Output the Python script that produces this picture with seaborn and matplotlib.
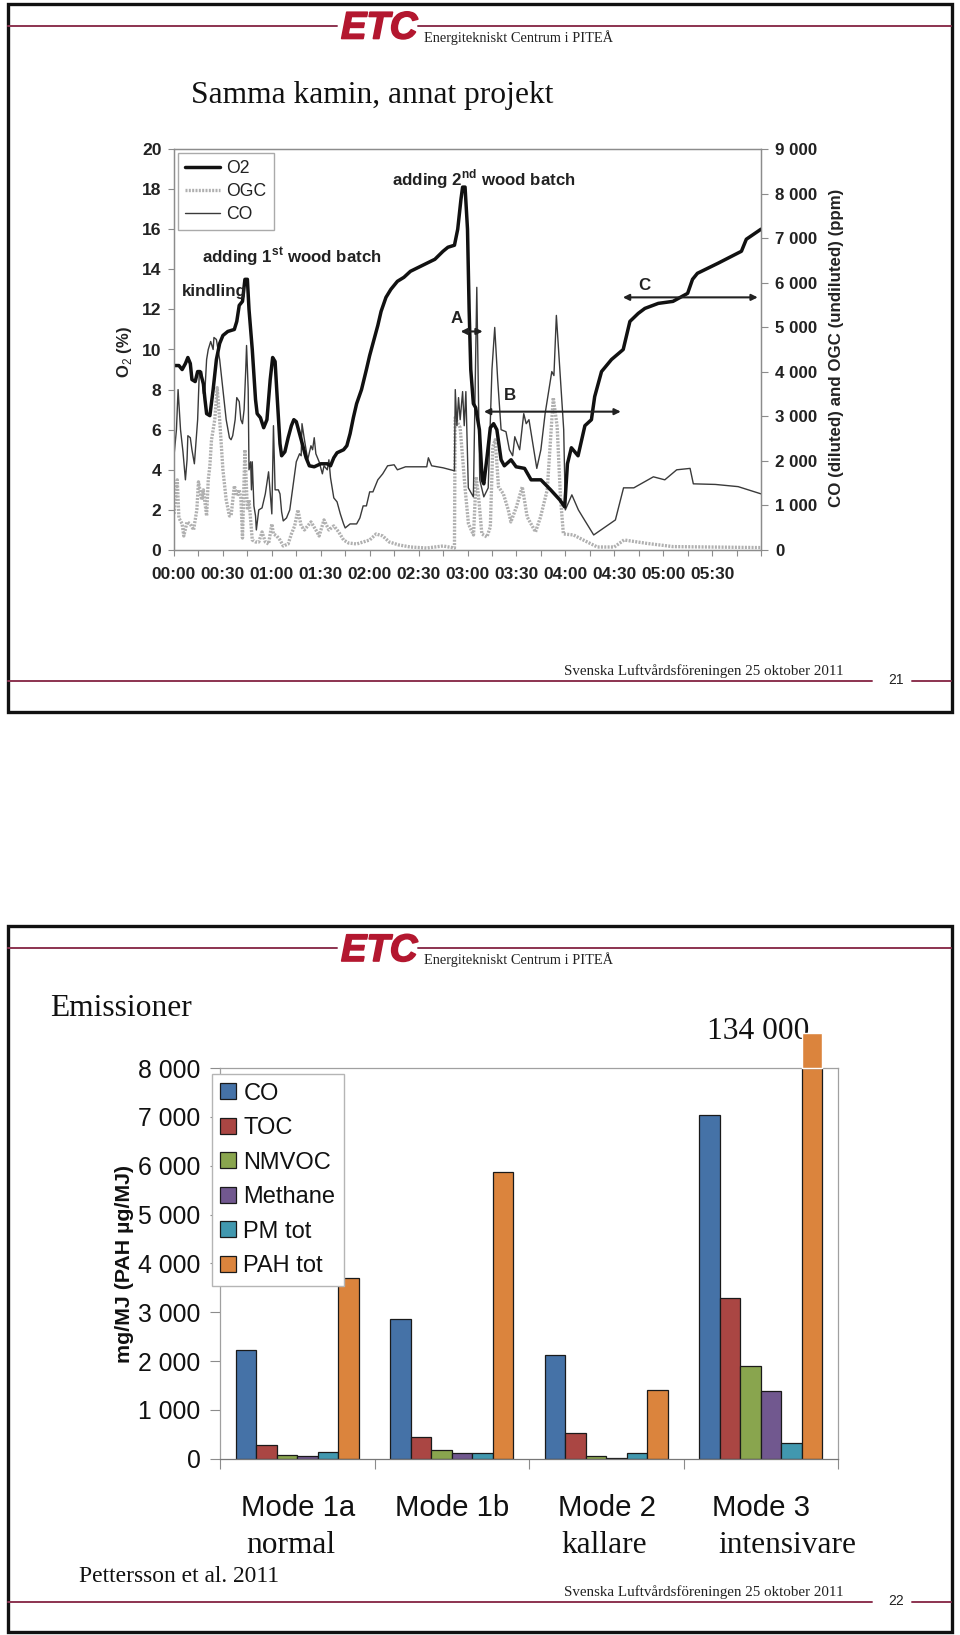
import numpy as np
import pandas as pd
import matplotlib
matplotlib.use("Agg")
import matplotlib.pyplot as plt
import matplotlib.patheffects as pe
import seaborn as sns

# ---- top slide: time series
# O2 in %, time in minutes
o2_t = [0, 3, 5, 7, 8.5, 10, 11, 13, 14.5, 16, 18, 19, 20, 22, 24, 26, 28, 30, 33, 37, 38.5, 40, 42, 43.5, 45,
        46, 48, 50, 51, 53, 55, 57, 59, 60.5, 62, 63, 65, 66, 68, 70, 72, 73.5, 75, 77, 79, 81, 83, 86, 90, 94,
        96, 98, 100, 104, 106, 108, 110, 112, 115, 118, 120, 123, 125, 127, 130, 133, 137, 141, 145, 150, 155,
        160, 165, 168, 172, 174, 176, 177, 178.5, 180, 181, 182, 183.6, 185, 187.3, 189, 190, 192, 194, 196,
        198, 200.6, 202.6, 206.7, 209.8, 215, 219, 225, 231, 236.6, 239.6, 241.3, 243.7, 247.8, 252, 256, 258,
        262.2, 268.3, 275.5, 279.6, 284.7, 288.8, 297, 306, 315, 318, 321, 333.6, 348, 351, 360]
o2 = [9.2, 9.2, 9.0, 9.3, 9.6, 9.3, 8.5, 8.4, 8.9, 8.9, 8.3, 7.5, 6.8, 6.7, 8, 9.5, 10.3, 10.7, 10.9, 11, 11.4,
      12.2, 12.4, 13.5, 13.5, 12, 10, 7.5, 6.8, 6.6, 6.1, 6.5, 8.5, 9.6, 9.4, 8, 5.3, 4.7, 4.9, 5.6, 6.2, 6.5,
      6.4, 5.8, 5.2, 4.6, 4.2, 4.15, 4.3, 4.3, 4.2, 4.6, 4.85, 5.0, 5.2, 5.8, 6.6, 7.3, 8, 9, 9.7, 10.6, 11.2,
      11.9, 12.6, 13, 13.4, 13.6, 13.9, 14.1, 14.3, 14.5, 14.9, 15.1, 15.2, 16, 17.5, 18.1, 18.1, 16, 12, 9,
      7.3, 7.1, 6, 3.5, 3.3, 4.65, 6.1, 6.3, 6, 4.5, 4.2, 4.5, 4.15, 4.07, 3.5, 3.5, 3, 2.5, 2.15, 4.3, 5.1,
      4.7, 6.2, 6.5, 7.65, 8.9, 9.5, 10, 11.4, 11.8, 12.05, 12.3, 12.4, 12.8, 13.5, 13.8, 14.3, 14.9, 15.5, 16]

# CO and OGC are read against the left scale, converted to ppm below
co_t = [0, 1.5, 2.5, 4, 5.5, 7, 8, 8.5, 10, 11, 12.5, 14.5, 15.5, 17, 18, 19, 20, 21, 22.5, 24, 24.5, 26, 28, 30,
        32, 34, 35, 36, 37.5, 38.5, 40, 41, 42, 43, 44, 44.5, 45.5, 46, 47, 47.5, 48, 49, 50, 50.5, 52, 54, 56,
        58, 60, 61, 62, 64, 65, 66, 67, 69, 71, 73, 75, 77, 78, 78.5, 80, 82, 84, 85, 86, 87, 89, 91, 92, 94,
        95, 96, 98, 100, 102, 104, 105, 108, 112, 114, 116, 118, 120, 122, 125, 128, 131, 135, 137, 142, 150,
        155, 156, 158, 165, 172, 172.5, 173.5, 174.5, 175.5, 177, 178, 179, 180.5, 183.6, 185.7, 187.5, 190,
        192.7, 195, 196.7, 198.5, 200.6, 203.6, 205.7, 207.7, 209, 212, 214.5, 216, 217.7, 222.5, 225, 227.6,
        231.7, 233, 234.5, 237, 239, 240, 244, 248, 250.6, 257.4, 270.7, 275.7, 282, 294, 301, 308.3, 316.5,
        318.5, 332, 346, 360]
co_read = [4.7, 6, 8.0, 6, 4.9, 3.5, 4.5, 5.7, 5.6, 5, 4.3, 6.5, 8.8, 8.9, 7.8, 8, 9.5, 10, 10.4, 10, 10.6, 10.5,
           9.5, 8, 6.5, 5.6, 5.5, 5.7, 6.5, 7.6, 7.4, 6.5, 6.3, 7, 9, 10.2, 8, 4, 4.4, 3, 4.4, 2.2, 1.7, 1, 2,
           2.1, 2.8, 3.9, 1.8, 6.2, 3, 3, 2.8, 1.9, 1.45, 1.6, 2, 3.2, 4.4, 4.8, 4.7, 6.3, 5.5, 4.5, 5.2, 5,
           5.6, 4.8, 4.4, 3.8, 4.2, 4, 4.5, 3.6, 2.6, 2.4, 1.8, 1.3, 1.1, 1.3, 1.3, 1.6, 2.2, 2.2, 2.9, 2.9,
           3.5, 3.8, 4.2, 4.25, 4.0, 4.15, 4.15, 4.15, 4.6, 4.2, 4.1, 3.95, 8, 6.2, 7.6, 6.5, 7.9, 6.2, 7.9,
           3.1, 2.65, 13.1, 3.5, 2.65, 3.1, 9, 11.1, 8.5, 6, 5.9, 5, 4.7, 5.65, 5, 6.8, 6.3, 6.5, 4.07, 5, 6.8,
           8.9, 8.7, 11.7, 8.5, 6, 2, 2.75, 2, 1.65, 0.75, 1.5, 3.1, 3.1, 3.65, 3.5, 4, 4.07, 3.3, 3.27, 3.16, 2.8]

ogc_t = [0, 2, 3, 5, 6, 8, 10, 12, 14, 15, 17, 18, 20, 21, 22, 23, 24, 25, 26.5, 28, 30, 32, 34, 35, 37, 38.5,
         40, 41, 42, 43.5, 45, 46, 48, 50, 52, 54, 56, 58, 60, 61, 63, 65, 67, 70, 72, 74, 76, 78, 80, 84, 87,
         89, 92, 95, 98, 101, 104, 107, 112, 116, 120, 124, 128, 132, 138, 145, 155, 165, 172, 172.4, 175.5,
         178.6, 180.6, 183.7, 185.3, 186.8, 188.8, 191.9, 194, 195.5, 197, 199, 202, 205, 206.6, 210, 213.6,
         216.6, 221.7, 224.8, 228.9, 232.6, 235, 237, 238.8, 245, 251, 259.6, 270, 276, 290, 306, 360]
ogc_read = [1.8, 3.5, 1.6, 1.3, 0.7, 1.4, 1.3, 1.0, 2.0, 3.4, 2.5, 3.0, 1.7, 3.5, 4.2, 5.5, 6, 6.5, 8.1, 6.5, 4,
            2.5, 1.7, 1.7, 3.2, 2.7, 3, 2.6, 0.6, 5, 2.0, 2.5, 0.5, 0.4, 0.4, 0.9, 0.4, 0.3, 1.3, 0.8, 0.7, 0.5,
            0.2, 0.3, 0.8, 1.2, 2, 1.2, 1, 1.4, 1, 0.7, 1.5, 1, 1.2, 0.9, 0.5, 0.35, 0.3, 0.4, 0.5, 0.8, 0.7,
            0.4, 0.25, 0.15, 0.1, 0.2, 0.1, 6.6, 6.1, 3, 1.3, 0.75, 3.65, 2.65, 0.8, 0.65, 1.15, 5.15, 5.5, 3.15,
            2.8, 2, 1.4, 2.15, 3.15, 1.65, 0.9, 1.65, 3, 7.6, 6.15, 2.65, 0.8, 0.75, 0.5, 0.15, 0.15, 0.5, 0.33,
            0.17, 0.12]

time_labels = ["00:00", "00:30", "01:00", "01:30", "02:00", "02:30", "03:00", "03:30", "04:00", "04:30", "05:00", "05:30"]
ppm_labels = ["0", "1 000", "2 000", "3 000", "4 000", "5 000", "6 000", "7 000", "8 000", "9 000"]

# ---- bottom slide: bars
modes = ["Mode 1a", "Mode 1b", "Mode 2", "Mode 3"]
species = ["CO", "TOC", "NMVOC", "Methane", "PM tot", "PAH tot"]
co_bar = [2217, 2870, 2120, 7044]
toc_bar = [281, 440, 535, 3288]
nmvoc_bar = [82, 172, 50, 1908]
methane_bar = [60, 110, 20, 1380]
pm_bar = [130, 110, 110, 316]
pah_bar = [3700, 5880, 1400, 8000]  # mode 3 runs off the axis (134 000)
pah_stub = 710  # plain orange piece pasted above the axis
bar_colors = ["#4572a7", "#aa4643", "#89a54e", "#71588f", "#4198af", "#db843d"]
bar_ticks = ["0", "1 000", "2 000", "3 000", "4 000", "5 000", "6 000", "7 000", "8 000"]

W, H = 960, 1635
MAROON = "#8c3350"
LOGO_RED = "#b3172f"
GREY = "#8c8c8c"

sns.set_theme(style="white")
plt.rcParams["font.family"] = ["Liberation Sans", "DejaVu Sans"]
plt.rcParams["mathtext.fontset"] = "custom"
plt.rcParams["mathtext.rm"] = "Liberation Sans"
plt.rcParams["mathtext.bf"] = "Liberation Sans:bold"

SERIF = ["Liberation Serif", "DejaVu Serif"]


def box(left, top, right, bottom):
    return [left / W, 1 - bottom / H, (right - left) / W, (bottom - top) / H]


fig = plt.figure(figsize=(W / 100, H / 100), dpi=100, facecolor="white")

# page layer in pixel coordinates
page = fig.add_axes([0, 0, 1, 1], zorder=0)
page.set_xlim(0, W)
page.set_ylim(H, 0)
page.axis("off")


def slide(top, bottom, rule_top, rule_bottom, foot_y, number):
    page.add_patch(plt.Rectangle((8, top), 943.5, bottom - top, fill=False, ec="#111111", lw=2.4))
    page.plot([8, 337], [rule_top, rule_top], color=MAROON, lw=1.4)
    page.plot([418, 951], [rule_top, rule_top], color=MAROON, lw=1.4)
    page.plot([8, 872], [rule_bottom, rule_bottom], color=MAROON, lw=1.4)
    page.plot([912, 951], [rule_bottom, rule_bottom], color=MAROON, lw=1.4)
    page.text(341, rule_top + 3, "ETC", color=LOGO_RED, fontsize=27.5, fontweight="bold", style="italic",
              va="center", ha="left", path_effects=[pe.withStroke(linewidth=1.2, foreground=LOGO_RED)])
    page.text(424, rule_top + 12, "Energitekniskt Centrum i PITEÅ", family=SERIF, fontsize=10.4,
              color="#222222", va="center")
    page.text(564, foot_y, "Svenska Luftvårdsföreningen 25 oktober 2011", family=SERIF, fontsize=10.85,
              color="#222222", va="center")
    page.text(896, rule_bottom - 1, number, fontsize=10, color="#222222", ha="center", va="center")


slide(3.5, 712, 25.5, 681, 671.5, "21")
slide(925.7, 1631.7, 948, 1602, 1592.5, "22")

page.text(191, 95, "Samma kamin, annat projekt", family=SERIF, fontsize=22.7, color="#111111", va="center")
page.text(50, 1008, "Emissioner", family=SERIF, fontsize=22.7, color="#111111", va="center")
page.text(707, 1031, "134 000", family=SERIF, fontsize=22.7, color="#111111", va="center")
page.text(79, 1576, "Pettersson et al. 2011", family=SERIF, fontsize=16.9, color="#111111", va="center")

# ---- top chart
ax = fig.add_axes(box(174, 149, 761, 550), zorder=1)
ax2 = ax.twinx()
ax.set_zorder(2)
ax2.set_zorder(1)
ax.patch.set_visible(False)

co_ppm = np.array(co_read) * 450
ogc_ppm = np.array(ogc_read) * 450

sns.lineplot(x=ogc_t, y=ogc_ppm, ax=ax2, color="#b0b0b0", lw=2.4, ls=(0, (0.6, 0.4)), sort=False, estimator=None)
sns.lineplot(x=co_t, y=co_ppm, ax=ax2, color="#3a3a3a", lw=1.0, sort=False, estimator=None)
sns.lineplot(x=o2_t, y=o2, ax=ax, color="#111111", lw=2.5, sort=False, estimator=None)

ax.set_xlim(0, 360)
ax.set_ylim(0, 20)
ax2.set_ylim(0, 9000)
ax.set_xticks(np.arange(0, 361, 15))
ax.set_xticklabels([time_labels[i // 30] if i % 30 == 0 and i < 360 else "" for i in range(0, 361, 15)],
                   fontsize=12.4, fontweight="bold", color="#222222")
ax.set_yticks(np.arange(0, 21, 2))
ax.set_yticklabels([str(v) for v in range(0, 21, 2)], fontsize=12.6, fontweight="bold", color="#222222")
ax2.set_yticks(np.arange(0, 9001, 1000))
ax2.set_yticklabels(ppm_labels, fontsize=12.2, fontweight="bold", color="#222222")
ax.tick_params(axis="x", bottom=True, length=4, width=0.8, color=GREY, pad=8)
ax.tick_params(axis="y", left=True, length=4, width=0.8, color=GREY, pad=5)
ax2.tick_params(axis="y", right=True, length=5, width=0.8, color=GREY, pad=5)
ax.set_xlabel("")
ax.set_ylabel("")
ax2.set_ylabel("")
for a in (ax, ax2):
    for s in a.spines.values():
        s.set_color(GREY)
        s.set_linewidth(0.9)

page.text(125, 352, "O$_2$ (%)", rotation=90, fontsize=12, fontweight="bold", color="#222222", ha="center", va="center")
page.text(836, 348, "CO (diluted) and OGC (undiluted) (ppm)", rotation=90, fontsize=12.2, fontweight="bold",
          color="#222222", ha="center", va="center")

handles = [ax.lines[0], ax2.lines[0], ax2.lines[1]]
ax.legend(handles, ["O2", "OGC", "CO"], loc="upper left", bbox_to_anchor=(4 / 587, 1 - 4 / 401), borderaxespad=0,
          fontsize=12.7, frameon=True, fancybox=False, edgecolor="#aaaaaa", framealpha=1, handlelength=2.0,
          handletextpad=0.35, labelspacing=0.33, borderpad=0.4, labelcolor="#222222")

note = dict(fontsize=12.2, fontweight="bold", color="#222222", va="center", zorder=5)
page_notes = [(202, 257.5, r"adding 1$^{\mathbf{st}}$ wood batch"), (182, 291, "kindling"),
              (392.5, 179, r"adding 2$^{\mathbf{nd}}$ wood batch"),
              (451, 318, "A"), (504, 395, "B"), (638, 285, "C")]
for nx, ny, label in page_notes:
    ax.text(nx, ny, label, transform=page.transData, **note)

arrow_spans = [(175.8, 189.3, 10.9), (190.1, 274, 6.9), (275.3, 358, 12.6)]
for x0, x1, yy in arrow_spans:
    ax.annotate("", xy=(x0, yy), xytext=(x1, yy),
                arrowprops=dict(arrowstyle="<|-|>", color="#222222", lw=1.5, mutation_scale=9, shrinkA=0, shrinkB=0))

# ---- bottom chart
df = pd.DataFrame({"mode": modes, "CO": co_bar, "TOC": toc_bar, "NMVOC": nmvoc_bar, "Methane": methane_bar,
                   "PM tot": pm_bar, "PAH tot": pah_bar})
df = df.melt(id_vars="mode", value_vars=species, var_name="species", value_name="value")

bx = fig.add_axes(box(220, 1068, 838, 1458.7), zorder=3)
bx.patch.set_visible(False)
sns.barplot(data=df, x="mode", y="value", hue="species", hue_order=species, order=modes, palette=bar_colors,
            saturation=1, width=0.796, gap=0, edgecolor="#1a1a1a", linewidth=0.9, ax=bx)
bx.set_xlim(-0.5, 3.5)
bx.set_ylim(0, 8000)
bx.set_xlabel("")
bx.set_ylabel("")

top_bar = bx.containers[5][3]
bx.bar(top_bar.get_x() + top_bar.get_width() / 2, pah_stub, width=top_bar.get_width(), bottom=8000,
       color=bar_colors[5], clip_on=False, zorder=4)

bx.set_yticks(np.arange(0, 8001, 1000))
bx.set_yticklabels(bar_ticks, fontsize=17.8, color="#111111")
bx.tick_params(axis="y", left=True, length=7, width=0.8, color=GREY, pad=7)
bx.set_xticks(np.arange(-0.5, 3.6, 1))
bx.set_xticklabels([])
bx.tick_params(axis="x", bottom=True, length=7, width=0.8, color=GREY)
for s in bx.spines.values():
    s.set_color("#a0a0a0")
    s.set_linewidth(0.9)
bx.spines["bottom"].set_color("#777777")

leg_handles, leg_labels = bx.get_legend_handles_labels()
leg = bx.legend(leg_handles[:6], leg_labels[:6], loc="upper left", bbox_to_anchor=(-8.3 / 618, 1 - 6 / 390.7),
                borderaxespad=0, fontsize=17, frameon=True, fancybox=False, edgecolor="#b5b5b5", framealpha=1,
                handlelength=0.68, handleheight=0.68, handletextpad=0.3, labelspacing=0.53, borderpad=0.36,
                labelcolor="#111111")
leg.set_zorder(10)

page.text(124, 1264, "mg/MJ (PAH µg/MJ)", rotation=90, fontsize=15.4, fontweight="bold", color="#111111",
          ha="center", va="center")

mode_lefts = [241, 395, 557.5, 712]
for lx, label in zip(mode_lefts, modes):
    page.text(lx, 1508, label, fontsize=21.2, color="#111111", va="center")
sub_labels = [(246, "normal"), (561, "kallare"), (718, "intensivare")]
for lx, label in sub_labels:
    page.text(lx, 1545, label, family=SERIF, fontsize=22.6, color="#111111", va="center")

fig.savefig("out.png", dpi=100)
